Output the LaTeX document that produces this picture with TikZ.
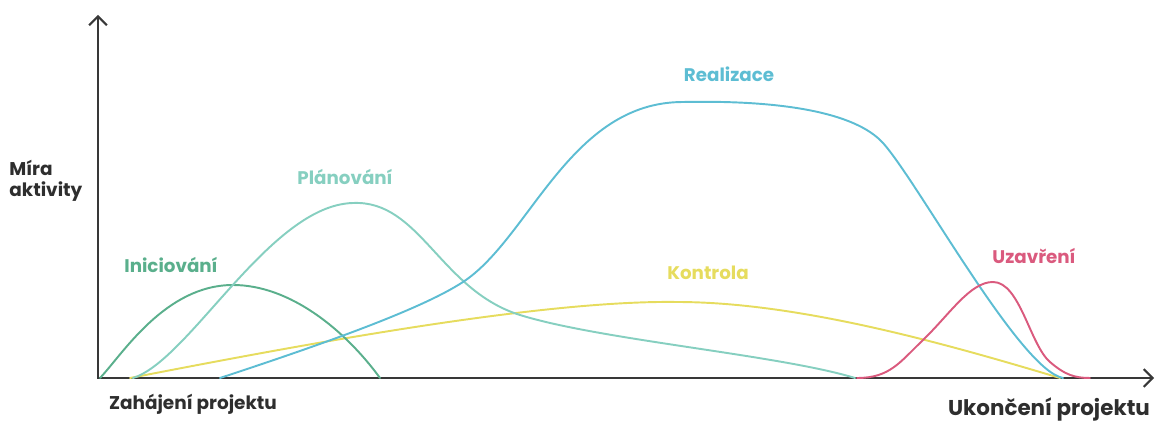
\documentclass[tikz,border=0pt]{standalone}
\usepackage{fontspec}
\setmainfont{Poppins}
\usepackage{tikz}
\usetikzlibrary{arrows.meta,positioning}
\definecolor{axisgray}{HTML}{383838}
\definecolor{textdark}{HTML}{2E2E2E}
\definecolor{inicgreen}{HTML}{5AAF8C}
\definecolor{plangreen}{HTML}{86CFC0}
\definecolor{realblue}{HTML}{5DBDD3}
\definecolor{kontyellow}{HTML}{E6DC5E}
\definecolor{uzavpink}{HTML}{DA5A7E}
\tikzset{axisline/.style={draw=axisgray,line width=1.2pt,>={Straight Barb[length=5pt,width=10pt]}},
    phasecurve/.style={line width=1.1pt,line cap=round},
    phaselabel/.style={inner sep=0,anchor=base,font=\bfseries\fontsize{10.4}{12}\selectfont},
    axislabel/.style={inner sep=0,anchor=base,text=textdark,font=\bfseries\fontsize{10.5}{12}\selectfont}
}

\begin{document}
\begin{tikzpicture}[x=0.02cm,y=-0.02cm]

\useasboundingbox (0,0) rectangle (1157,422);

%% axes
\coordinate (origin) at (98,378);
\coordinate (ytop) at (98,15);
\coordinate (xend) at (1154,378);

\draw [axisline,<->] (ytop) -- (origin) -- (xend);

\node (mira) [axislabel,align=left,anchor=north west] at (9,160) {Míra\\aktivity};
\node (start) [axislabel] at (193,410) {Zahájení projektu};
\node (finish) [axislabel,font=\bfseries\fontsize{12.2}{13}\selectfont] at (1049,416) {Ukončení projektu};

%% phases

% kontrola
\draw [phasecurve,kontyellow] (130,378) .. controls (300,345) and (540,300) .. (677,302)
    .. controls (800,302) and (950,345) .. (1060,378);

% iniciovani
\draw [phasecurve,inicgreen] (100,378) .. controls (122,355) and (165,285) .. (233,285)
    .. controls (290,285) and (345,330) .. (380,378);

% planovani
\draw [phasecurve,plangreen] (133,378) .. controls (190,360) and (270,205) .. (353,203)
    .. controls (420,200) and (440,290) .. (520,315)
    .. controls (600,340) and (780,355) .. (855,378);

% realizace
\draw [phasecurve,realblue] (220,378) .. controls (320,345) and (420,310) .. (463,282)
    .. controls (530,238) and (570,102) .. (683,102)
    .. controls (780,100) and (855,112) .. (883,143)
    .. controls (918,182) and (1020,370) .. (1063,378);

% uzavreni
\draw [phasecurve,uzavpink] (857,378) .. controls (890,378) and (900,362) .. (923,340)
    .. controls (950,314) and (970,282) .. (993,282)
    .. controls (1020,282) and (1030,345) .. (1050,362)
    .. controls (1065,375) and (1075,378) .. (1090,378);

\node (inic) [phaselabel,text=inicgreen] at (171,273) {Iniciování};
\node (plan) [phaselabel,text=plangreen] at (345,185) {Plánování};
\node (real) [phaselabel,text=realblue] at (729,82) {Realizace};
\node (kont) [phaselabel,text=kontyellow] at (708,280) {Kontrola};
\node (uzav) [phaselabel,text=uzavpink] at (1034,264) {Uzavření};

\end{tikzpicture}
\end{document}
